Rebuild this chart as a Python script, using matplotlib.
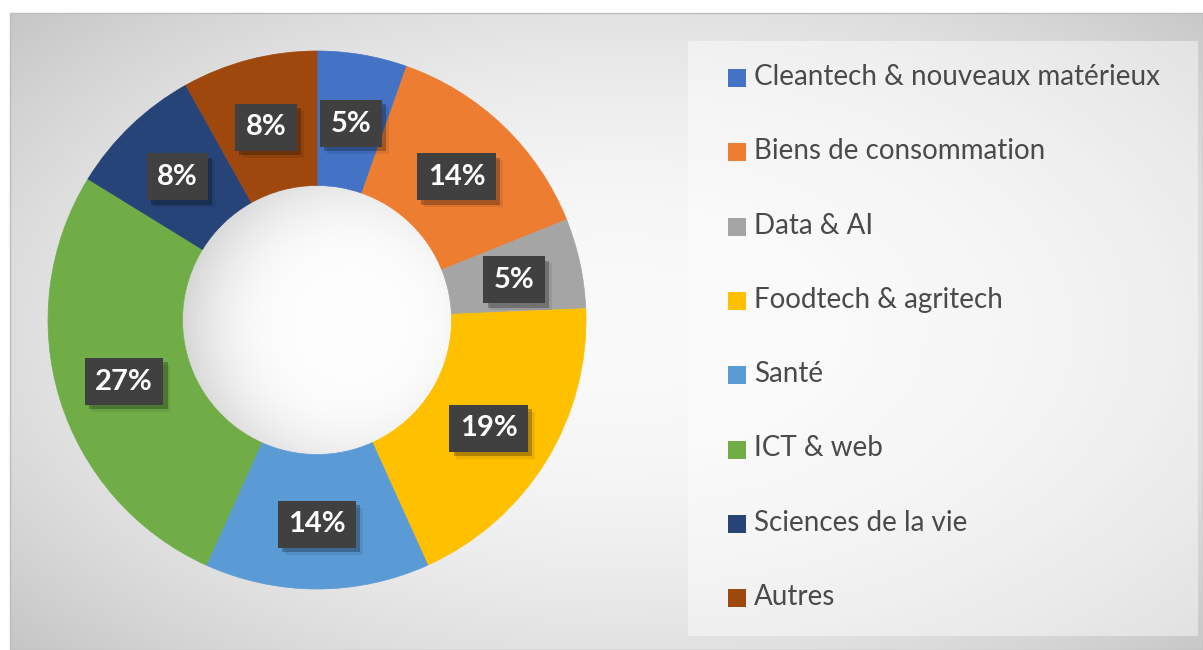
import numpy as np
import matplotlib
matplotlib.use("Agg")
import matplotlib.pyplot as plt
from matplotlib.patches import Rectangle, Circle
import matplotlib.patheffects as pe

# data: counts per sector (shown as percentages)
categories = ["Cleantech & nouveaux matérieux", "Biens de consommation", "Data & AI",
              "Foodtech & agritech", "Santé", "ICT & web", "Sciences de la vie", "Autres"]
counts = [2, 5, 2, 7, 5, 10, 3, 3]
colors = ["#4472C4", "#ED7D31", "#A5A5A5", "#FFC000",
          "#5B9BD5", "#70AD47", "#264478", "#9E480E"]

W, H = 1203, 650
fig = plt.figure(figsize=(W / 100, H / 100), dpi=100)
fig.patch.set_facecolor("white")

# background layer in pixel coordinates
bg = fig.add_axes([0, 0, 1, 1], zorder=0)
bg.set_xlim(0, W)
bg.set_ylim(H, 0)
bg.axis("off")

# radial gradient of the chart area
x0, y0 = 10, 13
xs = np.linspace(x0, W, 300)
ys = np.linspace(y0, H, 160)
gx, gy = np.meshgrid(xs, ys)
r = np.sqrt(((gx - 620) / 700) ** 2 + ((gy - 330) / 400) ** 2)
v = 250 - 54 * np.clip(r / 1.2, 0, 1) ** 2
img = np.dstack([v, v, v]) / 255.0
bg.imshow(img, extent=(x0, W, H, y0), aspect="auto", interpolation="bilinear", zorder=0)
bg.add_patch(Rectangle((x0, y0), W - x0, H - y0, fill=False, edgecolor="#bdbdbd", lw=1, zorder=1))

# legend box
bg.add_patch(Rectangle((688, 41), 510, 595, facecolor="white", alpha=0.45, edgecolor="none", zorder=2))
for i, (lab, col) in enumerate(zip(categories, colors)):
    yc = 78 + 74.3 * i
    bg.add_patch(Rectangle((728, yc - 9), 18, 18, facecolor=col, edgecolor="none", zorder=3))
    bg.text(754, yc - 1, lab, fontsize=20, family="Lato", color="#4a4a4a",
            va="center", ha="left", zorder=3)

# donut
cx, cy, rad = 317, 320, 269
ax = fig.add_axes([(cx - rad) / W, (H - cy - rad) / H, 2 * rad / W, 2 * rad / H], zorder=1)
ax.patch.set_alpha(0)
wedges, _, autotexts = ax.pie(
    counts, colors=colors, startangle=90, counterclock=False, radius=1,
    autopct="%1.0f%%", pctdistance=0.75,
    wedgeprops=dict(width=0.5, linewidth=0.5, edgecolor="none"),
    textprops=dict(color="white", fontsize=21, fontweight="bold", family="Lato"),
)
for w, c in zip(wedges, colors):
    w.set_edgecolor(c)

# soft shading inside the hole
hx = np.linspace(-0.5, 0.5, 200)
hX, hY = np.meshgrid(hx, hx)
d = np.sqrt((hX - 0.12) ** 2 + (hY + 0.02) ** 2)
hv = 253 - 42 * np.clip((d - 0.22) / 0.42, 0, 1) ** 2
hole = ax.imshow(np.dstack([hv, hv, hv]) / 255.0, extent=(-0.5, 0.5, -0.5, 0.5),
                 origin="lower", interpolation="bilinear", zorder=0.5)
hole.set_clip_path(Circle((0, 0), 0.5, transform=ax.transData))

shadow = [pe.SimplePatchShadow(offset=(5, -5), shadow_rgbFace="black", alpha=0.08),
          pe.SimplePatchShadow(offset=(3, -3), shadow_rgbFace="black", alpha=0.25)]
for t in autotexts:
    t.set_va("center_baseline")
    t.set_zorder(5)
    t.set_bbox(dict(boxstyle="square,pad=0.36", facecolor="#404040", edgecolor="none",
                    linewidth=0))
    t.get_bbox_patch().set_path_effects(shadow + [pe.Normal()])
ax.set_xlim(-1, 1)
ax.set_ylim(-1, 1)

fig.savefig("out.png", dpi=100)
